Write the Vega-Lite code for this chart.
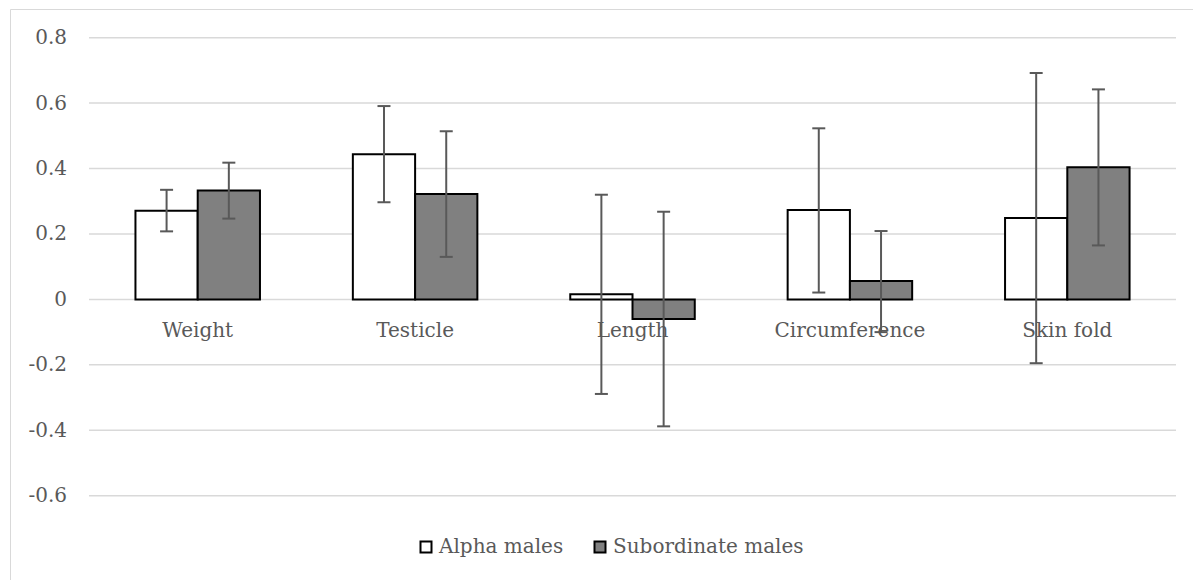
{
  "$schema": "https://vega.github.io/schema/vega-lite/v6.json",
  "autosize": "none",
  "width": 1183,
  "height": 571,
  "padding": {"left": 10, "top": 9, "right": 0, "bottom": 0},
  "background": "white",
  "config": {
    "view": {"stroke": "#d9d9d9", "strokeWidth": 1},
    "font": "DejaVu Serif"
  },
  "datasets": {
    "bars": [
      {"cat": "Weight", "group": "Alpha males", "value": 0.271, "lo": 0.208, "hi": 0.335},
      {"cat": "Weight", "group": "Subordinate males", "value": 0.333, "lo": 0.247, "hi": 0.418},
      {"cat": "Testicle", "group": "Alpha males", "value": 0.444, "lo": 0.297, "hi": 0.591},
      {"cat": "Testicle", "group": "Subordinate males", "value": 0.322, "lo": 0.130, "hi": 0.514},
      {"cat": "Length", "group": "Alpha males", "value": 0.016, "lo": -0.289, "hi": 0.320},
      {"cat": "Length", "group": "Subordinate males", "value": -0.060, "lo": -0.388, "hi": 0.268},
      {"cat": "Circumference", "group": "Alpha males", "value": 0.273, "lo": 0.021, "hi": 0.523},
      {"cat": "Circumference", "group": "Subordinate males", "value": 0.056, "lo": -0.100, "hi": 0.209},
      {"cat": "Skin fold", "group": "Alpha males", "value": 0.249, "lo": -0.195, "hi": 0.692},
      {"cat": "Skin fold", "group": "Subordinate males", "value": 0.404, "lo": 0.165, "hi": 0.642}
    ],
    "grid": [
      {"v": -0.6, "a": "Weight", "b": "Skin fold"},
      {"v": -0.4, "a": "Weight", "b": "Skin fold"},
      {"v": -0.2, "a": "Weight", "b": "Skin fold"},
      {"v": 0.0, "a": "Weight", "b": "Skin fold"},
      {"v": 0.2, "a": "Weight", "b": "Skin fold"},
      {"v": 0.4, "a": "Weight", "b": "Skin fold"},
      {"v": 0.6, "a": "Weight", "b": "Skin fold"},
      {"v": 0.8, "a": "Weight", "b": "Skin fold"}
    ]
  },
  "encoding": {
    "x": {
      "field": "cat",
      "type": "nominal",
      "scale": {"domain": ["Weight", "Testicle", "Length", "Circumference", "Skin fold"], "paddingInner": 0, "paddingOuter": 0.2208, "align": 0.823},
      "axis": {
        "title": null,
        "domain": false,
        "ticks": false,
        "tickSize": 0,
        "labelAngle": 0,
        "labelPadding": 21,
        "labelFont": "DejaVu Serif",
        "labelFontSize": 20,
        "labelColor": "#595959",
        "offset": -280.6,
        "grid": false
      }
    }
  },
  "layer": [
    {
      "data": {"name": "grid"},
      "mark": {"type": "rule", "color": "#d9d9d9", "strokeWidth": 1.5},
      "encoding": {
        "x": {"field": "a", "type": "nominal", "bandPosition": 0},
        "x2": {"field": "b", "bandPosition": 1},
        "y": {"field": "v", "type": "quantitative"}
      }
    },
    {
      "data": {"name": "bars"},
      "layer": [
        {
          "mark": {"type": "bar", "stroke": "black", "strokeWidth": 2},
          "encoding": {
            "xOffset": {"field": "group", "type": "nominal", "scale": {"domain": ["Alpha males", "Subordinate males"], "paddingInner": 0, "paddingOuter": 0.746}},
            "y": {
              "field": "value",
              "type": "quantitative",
              "scale": {"domain": [-0.8577, 0.8877], "nice": false, "zero": false},
              "axis": {
                "title": null,
                "values": [-0.6, -0.4, -0.2, 0, 0.2, 0.4, 0.6, 0.8],
                "labelExpr": "replace(format(datum.value, '.1~f'), '\u2212', '-')",
                "grid": false,
                "domain": false,
                "ticks": false,
                "tickSize": 0,
                "labelPadding": 0,
                "offset": -56.5,
                "labelFont": "DejaVu Serif",
                "labelFontSize": 20,
                "labelColor": "#595959"
              }
            },
            "fill": {
              "field": "group",
              "type": "nominal",
              "scale": {"domain": ["Alpha males", "Subordinate males"], "range": ["#ffffff", "#808080"]},
              "legend": {
                "title": null,
                "orient": "none",
                "direction": "horizontal",
                "legendX": 406,
                "legendY": 528,
                "symbolType": "square",
                "symbolSize": 121,
                "symbolStrokeColor": "black",
                "symbolStrokeWidth": 2,
                "symbolOpacity": 1,
                "labelFont": "DejaVu Serif",
                "labelFontSize": 20,
                "labelColor": "#595959",
                "labelOffset": 3,
                "labelLimit": 400,
                "columnPadding": 26,
                "padding": 0
              }
            }
          }
        },
        {
          "mark": {"type": "rule", "color": "#595959", "strokeWidth": 2},
          "encoding": {
            "xOffset": {"field": "group", "type": "nominal"},
            "y": {"field": "lo", "type": "quantitative"},
            "y2": {"field": "hi"}
          }
        },
        {
          "mark": {"type": "tick", "color": "#595959", "thickness": 2, "size": 13, "opacity": 1},
          "encoding": {
            "xOffset": {"field": "group", "type": "nominal"},
            "y": {"field": "lo", "type": "quantitative"}
          }
        },
        {
          "mark": {"type": "tick", "color": "#595959", "thickness": 2, "size": 13, "opacity": 1},
          "encoding": {
            "xOffset": {"field": "group", "type": "nominal"},
            "y": {"field": "hi", "type": "quantitative"}
          }
        }
      ]
    }
  ]
}
